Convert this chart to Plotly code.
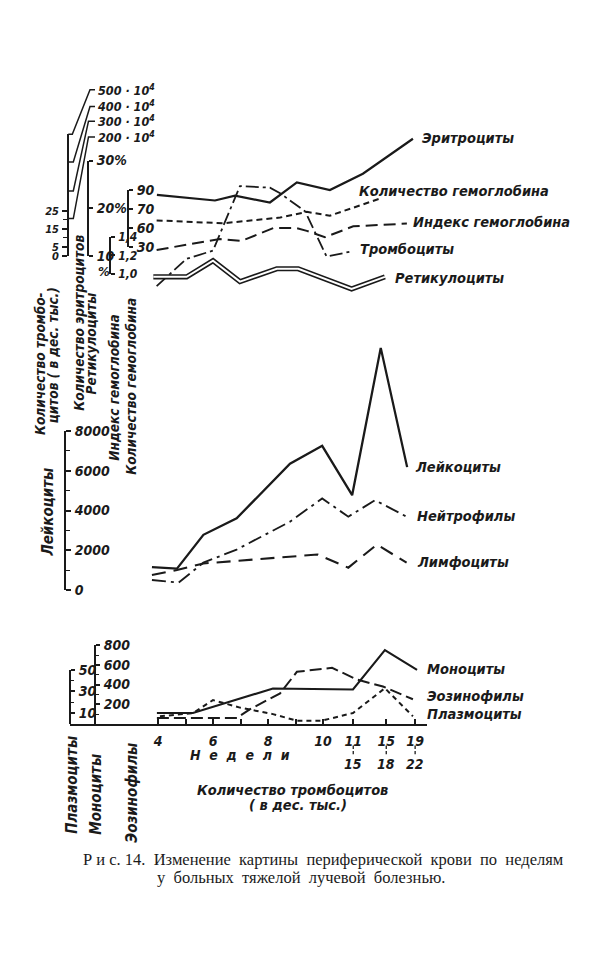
import plotly.graph_objects as go

# ---------------- data ----------------
# x: weeks of illness (last three groups: 11-15, 15-18, 19-22 weeks)
X_TICK_POS = [4, 6, 8, 10, 11.1, 12.3, 13.35]
X_TICK_TEXT = ["4", "6", "8", "10", "11", "15", "19"]
X_MINOR_POS = [5, 7, 9]
X_GROUP_TEXT2 = ["15", "18", "22"]

# top panel
WK_ERY = [3.96, 6.07, 6.8, 8.07, 9.05, 10.25, 11.45, 12.8, 13.27]
ERY = [284, 264, 281, 257, 328, 301, 359, 452, 483]            # x 10^4
WK_HB = [3.95, 6.37, 8.44, 9.41, 10.25, 12.07]
HB = [58, 55, 61, 67, 63, 81]                                    # Hb amount
WK_IDX = [3.95, 6.25, 7.04, 8.19, 9.04, 9.41, 10.07, 11.1, 13.05]
IDX = [1.26, 1.38, 1.36, 1.50, 1.50, 1.47, 1.40, 1.52, 1.55]     # colour index
WK_THR = [3.95, 5.04, 6.0, 6.98, 8.07, 8.44, 9.35, 10.13, 11.1]
THR = [-16.7, -1.6, 2.9, 38.6, 37.7, 34.6, 24.6, -0.4, 2.7]      # x 10 000
WK_RET = [3.83, 5.04, 6.0, 6.98, 8.32, 9.1, 11.04, 12.25]
RET = [5.6, 5.6, 9.0, 4.6, 7.3, 7.3, 3.05, 5.6]                  # %

# middle panel
WK_LEU = [3.78, 4.69, 5.65, 6.86, 8.8, 9.97, 11.06, 12.1, 13.06]
LEU = [1160, 1080, 2780, 3610, 6350, 7250, 4770, 12170, 6180]
WK_NEU = [3.78, 4.75, 5.65, 6.86, 8.8, 9.97, 10.92, 11.89, 13.04]
NEU = [510, 380, 1380, 2040, 3440, 4610, 3690, 4520, 3690]
WK_LYM = [3.78, 4.69, 5.65, 9.8, 10.92, 11.96, 13.04]
LYM = [760, 1010, 1340, 1790, 1130, 2290, 1380]

# bottom panel
WK_MON = [3.96, 5.27, 8.18, 11.09, 12.25, 13.42]
MON = [110, 110, 360, 350, 750, 550]
WK_EOS = [3.96, 6.87, 7.35, 8.44, 9.05, 10.33, 11.24, 12.18, 13.27]
EOS = [60, 60, 150, 310, 530, 570, 450, 380, 250]
WK_PLA = [4.07, 5.27, 6.0, 6.98, 8.18, 9.05, 9.96, 11.09, 12.25, 13.27]
PLA = [7, 10, 22, 15, 9, 3, 3, 10, 33, 7]

# tick labels
THR_TICKS, THR_TICKTEXT, THR_MINOR = [0, 5, 15, 25], ["0", "5", "15", "25"], [10, 20]
ERY_LABELS = ["500 · 10<sup>4</sup>", "400 · 10<sup>4</sup>", "300 · 10<sup>4</sup>", "200 · 10<sup>4</sup>"]
PCT_TICKS, PCT_TICKTEXT = [10, 20, 30], ["10", "20%", "30%"]
IDX_TICKS, IDX_TICKTEXT = [1.0, 1.2, 1.4], ["1,0", "1,2", "1,4"]
HB_TICKS, HB_TICKTEXT = [30, 50, 70, 90], ["30", "60", "70", "90"]
LEU_TICKS, LEU_TICKTEXT = [0, 2000, 4000, 6000, 8000], ["0", "2000", "4000", "6000", "8000"]
LEU_MINOR = [1000, 3000, 5000, 7000]
MON_TICKS, MON_TICKTEXT = [200, 400, 600, 800], ["200", "400", "600", "800"]
MON_MINOR = [100, 300, 500, 700]
PLA_TICKS, PLA_TICKTEXT, PLA_MINOR = [10, 30, 50], ["10", "30", "50"], [20, 40]

# ---------------- layout helpers ----------------
# the page keeps the browser's default 8px body margin, so the figure is sized
# to fill the 600x966 window exactly, and pixel geometry is offset by that margin
PAGE_W, PAGE_H, BODY_MARGIN = 600, 966, 8
W, H = PAGE_W - 2 * BODY_MARGIN, PAGE_H - 2 * BODY_MARGIN
FONT = "Liberation Sans Narrow, DejaVu Sans Condensed, Liberation Sans, sans-serif"
SERIF = "Liberation Serif, DejaVu Serif, serif"
INK = "#1a1a1a"
WEIGHT = "bold"


def px(x):
    return (x - BODY_MARGIN) / W


def py(y):
    return 1 - (y - BODY_MARGIN) / H


def lin_axis(va, ya, vb, yb, top, bottom):
    k = (yb - ya) / (vb - va)
    v_at = lambda yy: va + (yy - ya) / k
    return dict(domain=[py(bottom), py(top)], range=[v_at(bottom), v_at(top)])


X_PX0, X_PX_PER_WEEK = 158, 27.5
x_range = [4 + (70 - X_PX0) / X_PX_PER_WEEK, 4 + (427 - X_PX0) / X_PX_PER_WEEK]


def tfont(size=14):
    return dict(family=FONT, size=size, color=INK, style="italic", weight=WEIGHT)


fig = go.Figure()


def line(xs, ys, yaxis, dash="solid", width=2.0, color=INK):
    fig.add_trace(go.Scatter(x=xs, y=ys, xaxis="x", yaxis=yaxis, mode="lines",
                             line=dict(color=color, width=width, dash=dash),
                             showlegend=False, hoverinfo="skip"))


def vis_axis(pos, side, mapping, ticks, text, ticklen=5, minor=None, size=14):
    d = lin_axis(*mapping)
    ax = dict(d, anchor="free", position=px(pos), side=side, showline=True,
              linecolor=INK, linewidth=1.7, ticks="outside", ticklen=ticklen,
              tickwidth=1.5, tickcolor=INK, tickvals=ticks, ticktext=text,
              tickfont=tfont(size), showgrid=False, zeroline=False, ticklabelstandoff=1)
    if minor:
        ax["minor"] = dict(tickvals=minor, ticks="outside", ticklen=ticklen - 1,
                           tickwidth=1.3, tickcolor=INK, showgrid=False)
    return ax


def hid_axis(mapping):
    d = lin_axis(*mapping)
    return dict(d, anchor="free", position=0, visible=False, showgrid=False, zeroline=False)


M_MON = (0, 728, 800, 648, 648, 728)
M_PLA = (0, 728, 50, 673, 673, 728)
M_LEU_VIS = (0, 592, 8000, 430, 430, 592)
M_LEU_DATA = (0, 592, 8000, 430, 320, 600)
M_HB = (30, 243, 90, 185, 185, 243)
M_IDX_VIS = (1.0, 270, 1.4, 233, 233, 270)
M_IDX_DATA = (1.0, 270, 1.4, 233, 100, 300)
M_PCT_VIS = (10, 252, 30, 155, 155, 252)
M_PCT_DATA = (10, 252, 30, 155, 100, 300)
M_THR_VIS = (0, 252, 25, 206, 128, 252)
M_THR_DATA = (0, 252, 25, 206, 100, 300)
M_ERY_DATA = (200, 214, 500, 128, 100, 300)

layout_axes = dict(
    xaxis=dict(domain=[px(70), px(427)], range=x_range, anchor="y", showline=True,
               linecolor=INK, linewidth=1.8, ticks="inside", ticklen=5, tickwidth=1.5,
               tickcolor=INK, tickvals=X_TICK_POS, ticktext=X_TICK_TEXT,
               minor=dict(tickvals=X_MINOR_POS, ticks="inside", ticklen=5, tickwidth=1.5,
                          tickcolor=INK, showgrid=False),
               tickfont=tfont(14), showgrid=False, zeroline=False, ticklabelstandoff=3),
    yaxis=vis_axis(95, "right", M_MON, MON_TICKS, MON_TICKTEXT, 4, MON_MINOR),
    yaxis2=vis_axis(70, "right", M_PLA, PLA_TICKS, PLA_TICKTEXT, 4, PLA_MINOR),
    yaxis3=vis_axis(65, "right", M_LEU_VIS, LEU_TICKS, LEU_TICKTEXT, 5, LEU_MINOR),
    yaxis4=vis_axis(128, "right", M_HB, HB_TICKS, HB_TICKTEXT, 4),
    yaxis5=vis_axis(110, "right", M_IDX_VIS, IDX_TICKS, IDX_TICKTEXT, 4, None, 12),
    yaxis6=vis_axis(88, "right", M_PCT_VIS, PCT_TICKS, PCT_TICKTEXT, 4),
    yaxis7=vis_axis(68, "left", M_THR_VIS, THR_TICKS, THR_TICKTEXT, 5, THR_MINOR, 11),
    yaxis8=hid_axis(M_ERY_DATA),
    yaxis9=hid_axis(M_IDX_DATA),
    yaxis10=hid_axis(M_THR_DATA),
    yaxis11=hid_axis(M_PCT_DATA),
    yaxis12=hid_axis(M_LEU_DATA),
)

# placeholder traces so the decorative axes are drawn
for ax in ["y2", "y3", "y5", "y6", "y7"]:
    fig.add_trace(go.Scatter(x=[None], y=[None], xaxis="x", yaxis=ax, mode="lines",
                             showlegend=False, hoverinfo="skip"))

# top panel
line(WK_ERY, ERY, "y8", "solid", 2.2)
line(WK_HB, HB, "y4", "6px,4px", 2.0)
line(WK_IDX, IDX, "y9", "12px,6px", 2.0)
line(WK_THR, THR, "y10", "13px,4px,3px,4px", 1.8)
line(WK_RET, RET, "y11", "solid", 5.2)
line(WK_RET, RET, "y11", "solid", 2.0, "white")
# middle panel
line(WK_LEU, LEU, "y12", "solid", 2.3)
line(WK_NEU, NEU, "y12", "14px,5px,3px,5px", 1.9)
line(WK_LYM, LYM, "y12", "14px,8px", 2.1)
# bottom panel
line(WK_MON, MON, "y", "solid", 2.1)
line(WK_EOS, EOS, "y", "12px,5px", 2.0)
line(WK_PLA, PLA, "y2", "5px,4px", 2.0)

# ---------------- text ----------------
ann = []


def text(x, y, s, size=15, anchor="left", angle=0, family=FONT, style="italic",
         xref="paper", weight=WEIGHT):
    ann.append(dict(x=px(x) if xref == "paper" else x, y=py(y), xref=xref, yref="paper",
                    text=s, showarrow=False, xanchor=anchor, yanchor="middle",
                    textangle=angle,
                    font=dict(family=family, size=size, color=INK, style=style, weight=weight)))


# series labels
text(420, 132, "Эритроциты", 14.5)
text(357, 186, "Количество гемоглобина", 14.5)
text(411, 218, "Индекс гемоглобина", 14.5)
text(358, 245, "Тромбоциты", 14.5)
text(393, 274, "Ретикулоциты", 14.5)
text(413, 467, "Лейкоциты", 14.5)
text(415, 517, "Нейтрофилы", 14.5)
text(415, 563, "Лимфоциты", 14.5)
text(425, 672, "Моноциты", 14.5)
text(425, 700, "Эозинофилы", 14.5)
text(425, 718, "Плазмоциты", 14.5)

# erythrocyte scale labels with leader lines
ERY_LABEL_Y = [83, 100, 115, 131]
for s, yy in zip(ERY_LABELS, ERY_LABEL_Y):
    text(96, yy, s, 12.5)
text(96, 268, "%", 13)

# rotated axis titles
text(40, 362, "Количество тромбо-", 13.5, "center", -90)
text(53, 353, "цитов ( в дес. тыс.)", 13.5, "center", -90)
text(79, 320, "Количество эритроцитов", 13.5, "center", -90)
text(91, 341, "Ретикулоциты", 13.5, "center", -90)
text(114, 386, "Индекс гемоглобина", 13.5, "center", -90)
text(131, 385, "Количество гемоглобина", 13.5, "center", -90)
text(48, 513, "Лейкоциты", 15, "center", -90)
text(72, 790, "Плазмоциты", 15, "center", -90)
text(96, 800, "Моноциты", 15, "center", -90)
text(132, 798, "Эозинофилы", 15, "center", -90)

# x axis second row
for xv, s in zip(X_TICK_POS[-3:], X_GROUP_TEXT2):
    text(xv, 769, s, 14, "center", xref="x")
text(240, 760, "Н  е  д  е  л  и", 14, "center")
text(292, 795, "Количество тромбоцитов", 14.5, "center")
text(298, 811, "( в дес. тыс.)", 14.5, "center")

# caption
text(323, 866, "Р и с. 14.  Изменение  картины  периферической  крови  по  неделям", 16.5,
     "center", family=SERIF, style="normal", weight="normal")
text(301, 884, "у  больных  тяжелой  лучевой  болезнью.", 16.5, "center", family=SERIF,
     style="normal", weight="normal")

shapes = []
# broken-bar separators between the two rows of week labels
for xv in X_TICK_POS[-3:]:
    for y0, y1 in [(750, 753.5), (755.5, 759)]:
        shapes.append(dict(type="line", xref="x", yref="paper", x0=xv, x1=xv,
                           y0=py(y0), y1=py(y1), line=dict(color=INK, width=1.3)))

# leader lines of the erythrocyte scale (pixel geometry of the drawing)
LEADERS = [
    [(68.3, 128.3), (72.3, 128.3), (90, 83), (95, 83)],
    [(68.3, 156.5), (73.3, 156.5), (90, 100), (95, 100)],
    [(68.3, 186), (73.3, 186), (88.5, 115), (95, 115)],
    [(68.3, 214), (73.3, 214), (88.5, 131), (95, 131)],
]
for pts in LEADERS:
    path = "M " + " L ".join(f"{px(a):.5f},{py(b):.5f}" for a, b in pts)
    shapes.append(dict(type="path", path=path, xref="paper", yref="paper",
                       line=dict(color=INK, width=1.5)))

fig.update_layout(
    width=W, height=H, margin=dict(l=0, r=0, t=0, b=0),
    paper_bgcolor="white", plot_bgcolor="rgba(0,0,0,0)",
    showlegend=False, annotations=ann, shapes=shapes, **layout_axes)

fig.write_html("out.html", config={"displayModeBar": False})
